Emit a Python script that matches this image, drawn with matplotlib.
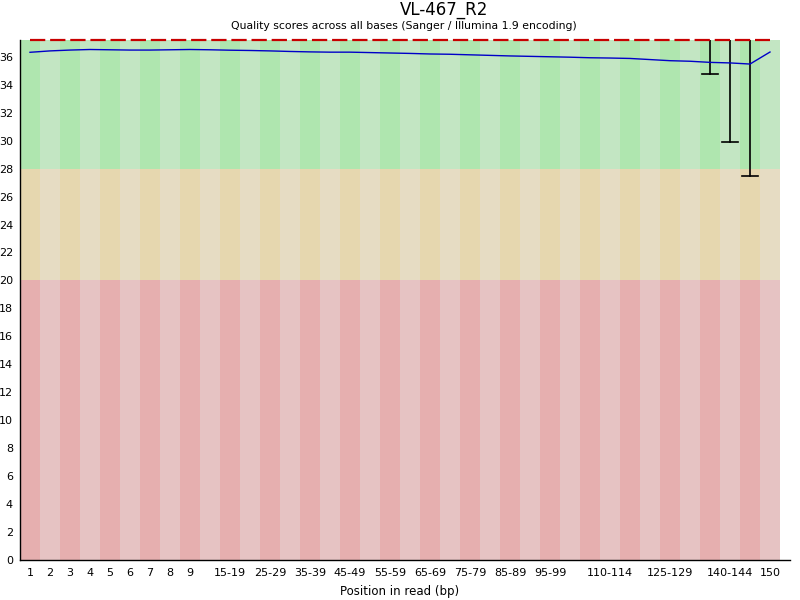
import matplotlib
matplotlib.use("Agg")
import matplotlib.pyplot as plt
from matplotlib.patches import Rectangle

# Grupos de posicoes (eixo x)
grupos = ["1", "2", "3", "4", "5", "6", "7", "8", "9",
          "10-14", "15-19", "20-24", "25-29", "30-34", "35-39", "40-44", "45-49",
          "50-54", "55-59", "60-64", "65-69", "70-74", "75-79", "80-84", "85-89",
          "90-94", "95-99", "100-104", "105-109", "110-114", "115-119", "120-124",
          "125-129", "130-134", "135-139", "140-144", "145-149", "150"]
rotulos_visiveis = ["1", "2", "3", "4", "5", "6", "7", "8", "9", "15-19", "25-29",
                    "35-39", "45-49", "55-59", "65-69", "75-79", "85-89", "95-99",
                    "110-114", "125-129", "140-144", "150"]

# Media (linha azul)
media = [36.32, 36.42, 36.48, 36.52, 36.50, 36.48, 36.48, 36.50, 36.52, 36.50,
         36.47, 36.45, 36.42, 36.38, 36.35, 36.33, 36.33, 36.30, 36.27, 36.24,
         36.20, 36.18, 36.14, 36.10, 36.06, 36.03, 36.00, 35.97, 35.93, 35.91,
         35.88, 35.80, 35.72, 35.68, 35.60, 35.56, 35.48, 36.34]
# Mediana (linha vermelha) e bigodes (percentis 10 e 90)
mediana = [37.2] * 38
p10 = [37.2] * 34 + [34.8, 29.9, 27.5, 37.2]
p90 = [37.2] * 38

ymax = 37.2
faixas = [(0, 20, "#e6c3c3", "#e6afaf"),
          (20, 28, "#e6dcc3", "#e6d7af"),
          (28, ymax, "#c3e6c3", "#afe6af")]

fig = plt.figure(figsize=(8, 6), dpi=100)
ax = fig.add_axes([20 / 800, 40 / 600, 760 / 800, 520 / 600])
n = len(grupos)
ax.set_xlim(0, n)
ax.set_ylim(0, ymax)

for y0, y1, claro, escuro in faixas:
    for i in range(n):
        cor = escuro if i % 2 == 0 else claro
        ax.add_patch(Rectangle((i, y0), 1, y1 - y0, facecolor=cor, edgecolor="none", zorder=0))

xs = [i + 0.5 for i in range(n)]

# bigodes
for i in range(n):
    if p10[i] < p90[i]:
        ax.plot([xs[i], xs[i]], [p10[i], p90[i]], color="black", lw=1.2, zorder=2)
        ax.plot([xs[i] - 0.38, xs[i] + 0.38], [p10[i], p10[i]], color="black", lw=1.2, zorder=2)

plt.rcParams["lines.scale_dashes"] = False
ax.plot(xs, mediana, color="#c80000", lw=1.6, dashes=(11, 3.5), zorder=3,
        clip_on=False)
ax.plot(xs, media, color="#0000c8", lw=1.0, zorder=4)

ax.spines["top"].set_visible(False)
ax.spines["right"].set_visible(False)
ax.spines["bottom"].set_bounds(0, n + 0.5)
ax.spines["left"].set_linewidth(1.0)
ax.spines["bottom"].set_linewidth(1.0)

ax.set_yticks(range(0, 37, 2))
ax.set_yticklabels([str(v) for v in range(0, 37, 2)], fontsize=8)
pos = [grupos.index(r) + 0.5 for r in rotulos_visiveis]
ax.set_xticks(pos)
ax.set_xticklabels(rotulos_visiveis, fontsize=8)
ax.tick_params(length=0, pad=6)
ax.tick_params(axis="y", pad=5)

ax.set_xlabel("Position in read (bp)", fontsize=8.5, labelpad=5)
fig.text(444 / 800, 1 - 15 / 600, "VL-467_R2", ha="center", va="baseline", fontsize=12)
fig.text(404 / 800, 1 - 29 / 600, "Quality scores across all bases (Sanger / Illumina 1.9 encoding)",
         ha="center", va="baseline", fontsize=7.8)

fig.savefig("out.png", dpi=100)
